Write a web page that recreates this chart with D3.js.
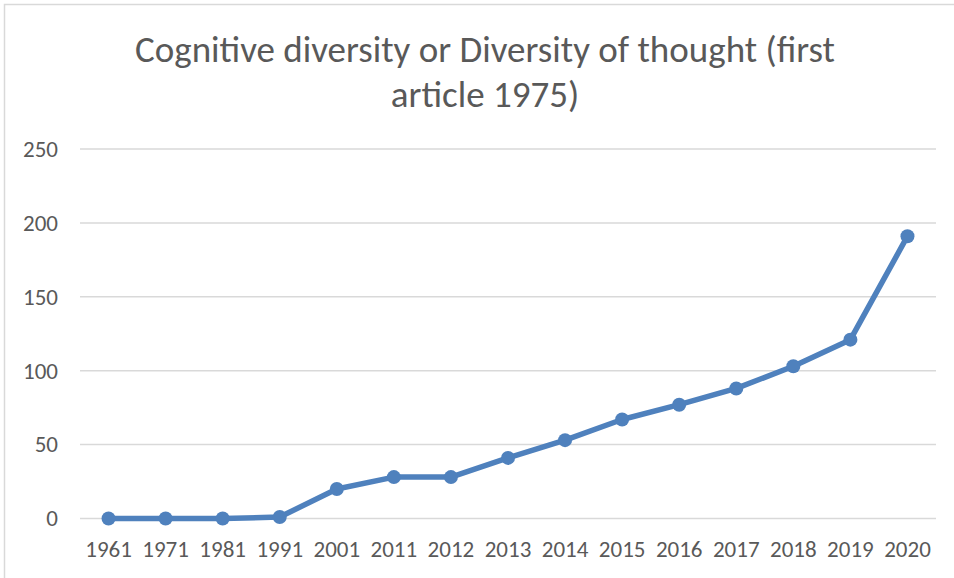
<!DOCTYPE html>
<html><head><meta charset="utf-8">
<script src="https://cdn.jsdelivr.net/npm/d3@7"></script>
<style>body{margin:0;background:#fff}svg{display:block}</style>
</head><body>
<svg id="c" width="954" height="578"></svg>
<script>
const years = ["1961","1971","1981","1991","2001","2011","2012","2013","2014","2015","2016","2017","2018","2019","2020"];
const counts = [0,0,0,1,20,28,28,41,53,67,77,88,103,121,191];
const yTicks = [0,50,100,150,200,250];
const titleLines = ["Cognitive diversity or Diversity of thought (first","article 1975)"];

const font = "Carlito, 'Open Sans', 'Liberation Sans', sans-serif";
const svg = d3.select("#c");
const W = 954, H = 578;
const m = {left:80, right:18, top:149, bottom:60};

svg.append("rect").attr("x",4.5).attr("y",4.5).attr("width",W+10).attr("height",H+10)
  .attr("fill","#fff").attr("stroke","#d9d9d9").attr("stroke-width",1.5);

const x = d3.scaleBand().domain(years).range([m.left, W-m.right]);
const y = d3.scaleLinear().domain([0,250]).range([518.5, 149]);

svg.append("g").selectAll("line").data(yTicks).join("line")
  .attr("x1",m.left).attr("x2",W-m.right)
  .attr("y1",d=>y(d)).attr("y2",d=>y(d))
  .attr("stroke","#d9d9d9").attr("stroke-width",1.5);

const ya = svg.append("g").attr("transform",`translate(${m.left},0)`)
  .call(d3.axisLeft(y).tickValues(yTicks).tickSize(0).tickPadding(22));
ya.select(".domain").remove();
ya.selectAll("text").attr("font-family",font).attr("font-size",23).attr("fill","#595959");

const xa = svg.append("g").attr("transform",`translate(0,${y(0)})`)
  .call(d3.axisBottom(x).tickSize(0).tickPadding(22));
xa.select(".domain").remove();
xa.selectAll("text").attr("font-family",font).attr("font-size",23).attr("fill","#595959");

const line = d3.line().x((d,i)=>x(years[i])+x.bandwidth()/2).y(d=>y(d));
svg.append("path").datum(counts).attr("d",line)
  .attr("fill","none").attr("stroke","#4f81bd").attr("stroke-width",5.5).attr("stroke-linejoin","round");
svg.append("g").selectAll("circle").data(counts).join("circle")
  .attr("cx",(d,i)=>x(years[i])+x.bandwidth()/2).attr("cy",d=>y(d)).attr("r",7)
  .attr("fill","#4f81bd");

svg.append("g").selectAll("text").data(titleLines).join("text")
  .attr("x",485).attr("y",(d,i)=>62+i*45).attr("text-anchor","middle")
  .attr("font-family",font).attr("font-size",37).attr("fill","#595959").text(d=>d);
</script>
</body></html>
